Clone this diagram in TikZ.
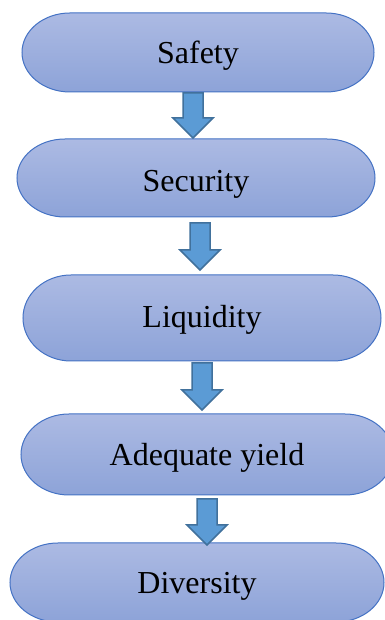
\documentclass[tikz,border=0pt]{standalone}
\usepackage{fontspec}
\setmainfont{Liberation Serif}
\definecolor{boxtop}{RGB}{172,186,227}
\definecolor{boxbot}{RGB}{141,163,216}
\definecolor{boxline}{RGB}{68,114,196}
\definecolor{arrfill}{RGB}{91,155,213}
\definecolor{arrline}{RGB}{65,113,156}
\newcommand\termbox[4]{%
  \path[top color=boxtop,bottom color=boxbot,draw=boxline,line width=1pt]
    ({#1-#3+48},{#2+#4}) -- ({#1+#3-48},{#2+#4})
    arc[start angle=90,end angle=-90,x radius=48pt,y radius=#4pt]
    -- ({#1-#3+48},{#2-#4})
    arc[start angle=270,end angle=90,x radius=48pt,y radius=#4pt] -- cycle;}
\newcommand\blockarr[4]{% cx, top, wing, tip
  \path[fill=arrfill,draw=arrline,line width=1.5pt,line join=miter]
    ({#1-10},#2) -- ({#1+10},#2) -- ({#1+10},#3) -- ({#1+20},#3)
    -- (#1,#4) -- ({#1-20},#3) -- ({#1-10},#3) -- cycle;}
\tikzset{lbl/.style={anchor=base,inner sep=0pt,font=\fontsize{32}{38}\selectfont}}
\begin{document}
\begin{tikzpicture}[x=1pt,y=1pt]
\useasboundingbox (0,0) rectangle (384,620);
\fill[white] (0,0) rectangle (384,620);
\termbox{198}{567.5}{176}{39.5}
\termbox{196}{442}{179}{39}
\termbox{202}{302}{179}{43}
\termbox{207}{165.5}{186}{40.5}
\termbox{197}{37.5}{187}{39.5}
\blockarr{193}{527}{502}{482}
\blockarr{200}{397}{370}{350}
\blockarr{202}{257}{230}{210}
\blockarr{207}{121}{95}{75}
\node[lbl] (s1) at (198,556) {Safety};
\node[lbl] (s2) at (196,428) {Security};
\node[lbl] (s3) at (202,292) {Liquidity};
\node[lbl] (s4) at (207,154) {Adequate yield};
\node[lbl] (s5) at (197,26) {Diversity};
\end{tikzpicture}
\end{document}
